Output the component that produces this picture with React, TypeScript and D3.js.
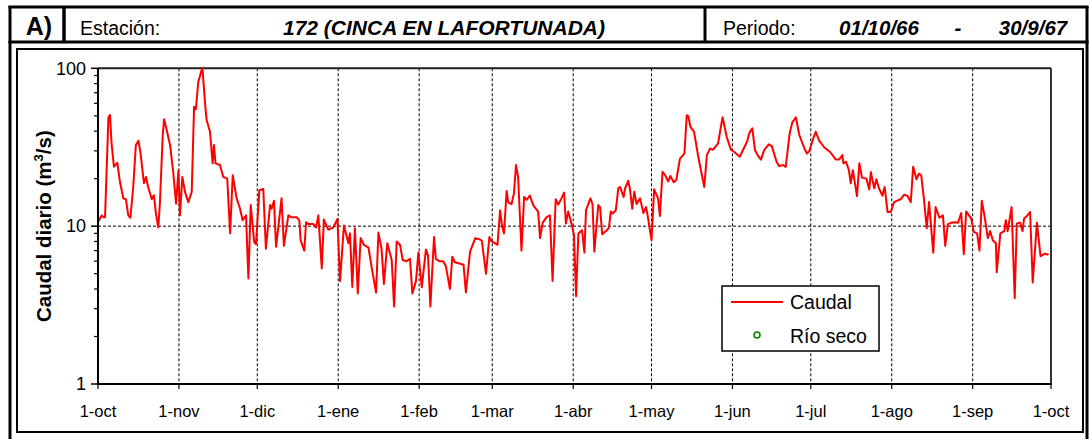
import React from 'react';
import * as d3 from 'd3';

// ---- Data (day offset from 1-oct-1966, caudal m3/s) ----
const octubre: [number, number][] = [[0,10.6],[1.4,11.7],[2,11.4],[2.7,11.4],[4,49],[4.6,50.5],[5.2,33.4],[6.1,23.8],[7.4,25.2],[8.4,19.1],[9.7,15],[10.7,14.8],[11.6,11.7],[12.4,11.3],[13.5,17.7],[14.5,32.7],[15.5,34.8],[16.3,28.9],[17.6,18.7],[18.4,20.5],[19.2,17.7],[20.6,14.8],[21.4,15.7],[22.2,12],[23.1,9.8],[23.7,13.9],[24.8,37.8],[25.3,47.5],[26.3,40.6],[27.6,32.7],[28.8,22.1],[29.9,13.9],[30.8,22.4]];
const noviembre: [number, number][] = [[31.4,11.7],[32.3,20.5],[33.3,16.5],[34.6,14.2],[35.9,16.5],[36.8,57],[37.5,55],[38.4,82],[39.7,97.6],[40,100],[41,60],[41.6,47],[42.9,39.6],[43.9,25],[44.4,32.7],[45,25],[46.7,24.4],[48,20.5],[49.5,20],[50.6,9.0],[51.6,21],[53.1,15],[54.4,12.9],[55.4,10.9],[56.7,11.7],[57.6,4.66],[58.5,13.6],[59.8,7.95],[60.5,7.7]];
const diciembre: [number, number][] = [[61.8,16.9],[63.3,17.2],[64.3,7.2],[65.9,13.6],[66.5,12.9],[67.4,14.5],[68.2,7.4],[70.3,15],[71.2,7.5],[72.9,11.7],[74,11.4],[76,11.4],[77.1,10.9],[77.6,8.15],[79,7.0],[79.7,10.6],[80.6,10.3],[82.5,10.3],[83.5,9.8],[84.4,11.7],[85.7,5.4],[86.5,11],[88.2,9.5],[90.1,9.8],[91.7,11.1]];
const enero: [number, number][] = [[92.7,4.5],[94.2,10.1],[95.9,7.8],[96.5,9.0],[97.4,4.12],[98.4,9.7],[99.5,3.75],[100.6,8.4],[101.9,7.6],[103.6,7.3],[104.8,5.5],[106.5,3.8],[107.4,9.1],[108.6,7.2],[109.5,4.3],[110.8,7.8],[112.5,6.1],[113.4,3.1],[114.4,8.0],[115.7,7.6],[116.7,6.1],[118.2,6.0],[119.5,6.2],[120.4,3.75],[121.8,4.5],[122.7,6.8]];
const febrero: [number, number][] = [[124,4.1],[125.6,7.1],[126.4,6.5],[127.3,3.1],[128.7,8.55],[129.4,6.2],[130.7,6.0],[132.2,6.0],[133.2,5.6],[134.8,4.0],[135.7,6.4],[136.7,5.9],[138.4,5.8],[140,5.7],[140.9,3.8],[142.5,6.9],[143.2,7.4],[144.5,8.4],[145.7,8.3],[147,8.1],[148.6,5.0],[149.9,8.55],[150.8,8.0]];
const marzo: [number, number][] = [[152,7.8],[153,7.6],[154,12.6],[154.8,9.9],[155.5,9.0],[156.5,16.7],[157.1,14.2],[158.4,13.8],[159.3,16.1],[160.1,24.4],[160.9,20.5],[162.2,7.0],[163.2,15.3],[164.2,14.7],[165.4,15.6],[166.7,13.6],[168.6,12.3],[169.3,8.4],[170.3,10.5],[171.8,11.4],[173.1,11.7],[174.1,4.5],[175.3,14.8],[176.3,13.7],[177.5,15],[178.5,16.3],[179.2,10.4],[180.1,12.4],[181.4,10.3]];
const abril: [number, number][] = [[182.3,8.8],[183.1,3.6],[184,9.0],[185.4,9.4],[186.3,6.8],[186.9,12.6],[188.6,15],[189.4,13.8],[190.1,6.9],[191.6,13.6],[192.3,13.2],[193.1,8.9],[194.8,9.4],[195.7,9.8],[196.4,12.4],[197.1,12],[198.3,12.6],[199.3,17.4],[200,17.7],[201.3,15.3],[201.9,17.4],[203.1,19.4],[203.8,16.9],[204.6,12.9],[205.4,16.5],[206.3,13.8],[207.6,15],[208.9,12.1],[209.9,13.2],[210.5,11.7]];
const mayo: [number, number][] = [[212,8.15],[213,17.1],[214.5,15],[215.2,11.6],[216.2,22.1],[217.1,21.2],[218.4,19.2],[219.2,20.8],[220.5,19],[221.5,19.6],[222.9,26.8],[224.6,28.8],[225.5,50.5],[226.1,49.6],[226.9,42.6],[228.3,39.6],[229.9,27.5],[232.2,17.7],[233.2,28.2],[234.4,31],[235.6,30.5],[237.5,33.5],[239.2,49],[240.8,36.8],[242.4,30.5]];
const junio: [number, number][] = [[243.7,29.5],[245.8,27.5],[248.1,33],[248.7,34.8],[249.5,39],[250.6,41.7],[251.6,30.4],[252.6,28.2],[253.9,26.4],[255.2,30.4],[256.9,33],[258.1,32],[259.9,25.6],[260.9,24],[262.4,24.4],[263.4,23.7],[264.9,38.7],[265.9,45.3],[267.3,49],[268.6,37.8],[270.6,31],[271.5,28.8],[272.4,29.8]];
const julio: [number, number][] = [[274.1,36.6],[274.9,39.6],[276.2,34.8],[278.2,31.5],[280.4,29.5],[282.6,26.4],[283.8,26.4],[285.1,28.2],[285.5,25],[286.5,25.6],[287.6,22.6],[288.3,18.7],[289.1,22.6],[290.7,15.5],[291.6,25],[292.6,20.3],[294.3,20],[295.4,17.1],[296,22],[297.3,17.4],[298.1,19.8],[299.1,17.4],[300.4,15.6],[301.3,17.7],[302.4,12.3],[303.6,12.3]];
const agosto: [number, number][] = [[304.9,14.2],[306.1,14.5],[307.4,14.8],[308.7,15.8],[310,15.6],[311.3,14.2],[312.2,23.8],[313.5,19.8],[314.4,21.5],[315.3,21],[316.3,15],[317.4,9.7],[318.3,14.2],[319.9,6.8],[320.8,13.2],[322.3,11.3],[323.6,11.7],[324.5,7.5],[325.5,10.3],[326.8,10.5],[328.3,10.6],[329.4,10.5],[330.6,12.1],[331.6,6.65],[332.5,12.4],[334.4,11.2]];
const septiembre: [number, number][] = [[335.4,9.2],[336.7,9.0],[337.6,7.0],[338.5,14.5],[339.8,10.9],[340.8,8.4],[341.7,9.3],[342.7,8.15],[343.9,7.8],[344.2,5.1],[345.6,9.0],[347.1,9.3],[347.7,10.9],[348.4,9.3],[349.9,13.2],[351.1,3.5],[351.9,10.4],[353.2,10.5],[354.1,9.3],[354.7,11.2],[356,11.7],[357,12.3],[358,4.4],[359.6,10.5],[361,6.45],[362.7,6.7],[363.6,6.6],[364,6.7]];

const tickLabels = ['1-oct','1-nov','1-dic','1-ene','1-feb','1-mar','1-abr','1-may','1-jun','1-jul','1-ago','1-sep','1-oct'];
const yMajor = [1, 10, 100];

const START = Date.UTC(1966, 9, 1);
const END = Date.UTC(1967, 9, 1);

const FONT = 'Liberation Sans, Arial, sans-serif';

export default function App() {
  const W = 1090, H = 439;
  const L = 98, R = 1051, T = 68.3, B = 384;
  const x = d3.scaleUtc().domain([new Date(START), new Date(END)]).range([L, R]);
  const y = d3.scaleLog().domain([1, 100]).range([B, T]);

  const series = [...octubre, ...noviembre, ...diciembre, ...enero, ...febrero, ...marzo, ...abril, ...mayo, ...junio, ...julio, ...agosto, ...septiembre]
    .map(([d, v]) => ({ date: new Date(START + d * 864e5), v }));
  const line = d3.line<{ date: Date; v: number }>().x(p => x(p.date)).y(p => y(p.v));

  const monthTicks = d3.utcMonth.range(new Date(START), new Date(END + 1));
  const minor: number[] = [];
  [1, 10].forEach(b => { for (let k = 2; k <= 9; k++) minor.push(b * k); });

  return (
    <svg width={W} height={H} style={{ position: 'absolute', left: 0, top: 0, background: '#fff' }} fontFamily={FONT}>
      <rect x={0} y={0} width={W} height={H} fill="#fff" />
      {/* outer frame */}
      <line x1={10} y1={6} x2={10} y2={439} stroke="#000" strokeWidth={3} />
      <line x1={1087} y1={6} x2={1087} y2={439} stroke="#000" strokeWidth={3} />
      <line x1={8.5} y1={7} x2={1088.5} y2={7} stroke="#000" strokeWidth={3} />
      <line x1={8.5} y1={42} x2={1088.5} y2={42} stroke="#000" strokeWidth={3} />
      <line x1={64} y1={7} x2={64} y2={42} stroke="#000" strokeWidth={3.5} />
      <line x1={705} y1={7} x2={705} y2={42} stroke="#000" strokeWidth={3} />
      {/* header text */}
      <text x={39} y={35} fontSize={25} fontWeight="bold" textAnchor="middle">A)</text>
      <text x={80} y={35} fontSize={19.5}>Estación:</text>
      <text x={444} y={35} fontSize={21} fontWeight="bold" fontStyle="italic" textAnchor="middle">172 (CINCA EN LAFORTUNADA)</text>
      <text x={723} y={35} fontSize={19.5}>Periodo:</text>
      <text x={879} y={35} fontSize={20.5} fontWeight="bold" fontStyle="italic" textAnchor="middle">01/10/66</text>
      <text x={958} y={35} fontSize={20.5} fontWeight="bold" fontStyle="italic" textAnchor="middle">-</text>
      <text x={1033} y={35} fontSize={20.5} fontWeight="bold" fontStyle="italic" textAnchor="middle">30/9/67</text>
      {/* chart box */}
      <rect x={17} y={49} width={1066} height={383} fill="none" stroke="#000" strokeWidth={2} />

      {/* grid */}
      {monthTicks.slice(1, -1).map((d, i) => (
        <line key={'g' + i} x1={x(d)} x2={x(d)} y1={T} y2={B} stroke="#000" strokeWidth={1} strokeDasharray="3,2" />
      ))}
      {[10, 100].map(v => (
        <line key={'h' + v} x1={L} x2={R} y1={y(v)} y2={y(v)} stroke="#000" strokeWidth={1} strokeDasharray="3,2" />
      ))}
      {/* plot border top/right */}
      <line x1={L} x2={R} y1={T} y2={T} stroke="#222" strokeWidth={2} />
      <line x1={R} x2={R} y1={T} y2={B} stroke="#333" strokeWidth={2} />

      {/* data line */}
      <path d={line(series) || ''} fill="none" stroke="#ff0000" strokeWidth={2} strokeLinejoin="round" />

      {/* axes */}
      <line x1={L} x2={L} y1={T} y2={B + 1} stroke="#000" strokeWidth={2} />
      <line x1={L - 1} x2={R + 1} y1={B} y2={B} stroke="#000" strokeWidth={2} />
      {yMajor.map(v => (
        <g key={'ym' + v}>
          <line x1={L - 7} x2={L} y1={y(v)} y2={y(v)} stroke="#000" strokeWidth={1.5} />
          <text x={L - 12} y={y(v)} dy="0.35em" fontSize={18} textAnchor="end">{v}</text>
        </g>
      ))}
      {minor.map(v => (
        <line key={'mn' + v} x1={L - 4} x2={L} y1={y(v)} y2={y(v)} stroke="#000" strokeWidth={1.2} />
      ))}
      {monthTicks.map((d, i) => (
        <g key={'xt' + i}>
          <line x1={x(d)} x2={x(d)} y1={B} y2={B + 5} stroke="#000" strokeWidth={1.2} />
          <text x={x(d)} y={417} fontSize={16.5} textAnchor="middle">{tickLabels[i]}</text>
        </g>
      ))}
      <text transform={`translate(51,${(T + B) / 2}) rotate(-90)`} fontSize={20.5} fontWeight="bold" textAnchor="middle">
        Caudal diario (m<tspan dy={-8} fontSize={13}>3</tspan><tspan dy={8}>/s)</tspan>
      </text>

      {/* legend */}
      <rect x={722} y={286} width={157} height={65} fill="#fff" stroke="#000" strokeWidth={1.5} />
      <line x1={731} x2={783} y1={302} y2={302} stroke="#ff0000" strokeWidth={2} />
      <text x={790} y={309} fontSize={19.5}>Caudal</text>
      <circle cx={757} cy={335} r={3} fill="none" stroke="#008000" strokeWidth={1.5} />
      <text x={790} y={343} fontSize={19.5}>Río seco</text>
    </svg>
  );
}
